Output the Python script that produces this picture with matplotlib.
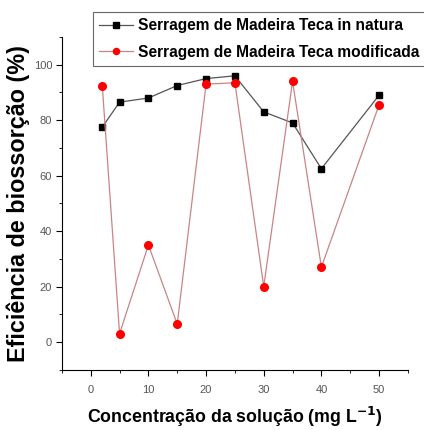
import numpy as np
import matplotlib.pyplot as plt
from matplotlib.ticker import MultipleLocator

plt.rcParams['font.family'] = ['Liberation Sans', 'DejaVu Sans']

# concentração (mg/L)
conc = [2, 5, 10, 15, 20, 25, 30, 35, 40, 50]
# eficiência (%)
natura = [77.5, 86.5, 88, 92.5, 95, 96, 83, 79, 62.5, 89]
modificada = [92.5, 3, 35, 6.5, 93, 93.5, 20, 94, 27, 85.5]

fig = plt.figure(figsize=(4.24, 4.30), dpi=100)
ax = fig.add_axes([0.146, 0.140, 0.816, 0.774])

ax.plot(conc, natura, color='#555555', lw=0.9, marker='s', ms=5,
        mfc='black', mec='black', label='Serragem de Madeira Teca in natura')
ax.plot(conc, modificada, color='#c98585', lw=0.9, marker='o', ms=5.5,
        mfc='red', mec='red', label='Serragem de Madeira Teca modificada')

ax.set_xlim(-5, 55)
ax.set_ylim(-10, 110)
ax.xaxis.set_major_locator(MultipleLocator(10))
ax.xaxis.set_minor_locator(MultipleLocator(5))
ax.yaxis.set_major_locator(MultipleLocator(20))
ax.yaxis.set_minor_locator(MultipleLocator(10))
ax.set_yticks([0, 20, 40, 60, 80, 100])
ax.set_xticks([0, 10, 20, 30, 40, 50])

for s in ['top', 'right']:
    ax.spines[s].set_visible(False)
ax.tick_params(which='major', direction='out', length=4, labelsize=8, labelcolor='#555555')
ax.tick_params(axis='x', which='major', pad=7)
ax.tick_params(axis='y', which='major', pad=3)
ax.tick_params(which='minor', direction='out', length=2.5)

ax.set_xlabel('Concentração da solução (mg L$^{\\mathbf{-1}}$)', fontsize=12.8,
              fontweight='bold', labelpad=7)
ax.set_ylabel('Eficiência de biossorção (%)', fontsize=16.8, fontweight='bold', labelpad=3)

leg = fig.legend(loc='upper left', bbox_to_anchor=(93/424, 1 - 12/430),
                 prop={'weight': 'bold', 'size': 11.2}, frameon=True, fancybox=False,
                 borderaxespad=0, handlelength=2.2, handletextpad=0.3,
                 labelspacing=0.75, borderpad=0.4, markerscale=0.8)
leg.get_frame().set_edgecolor('#444444')
leg.get_frame().set_linewidth(0.8)

fig.savefig('out.png', dpi=100)
